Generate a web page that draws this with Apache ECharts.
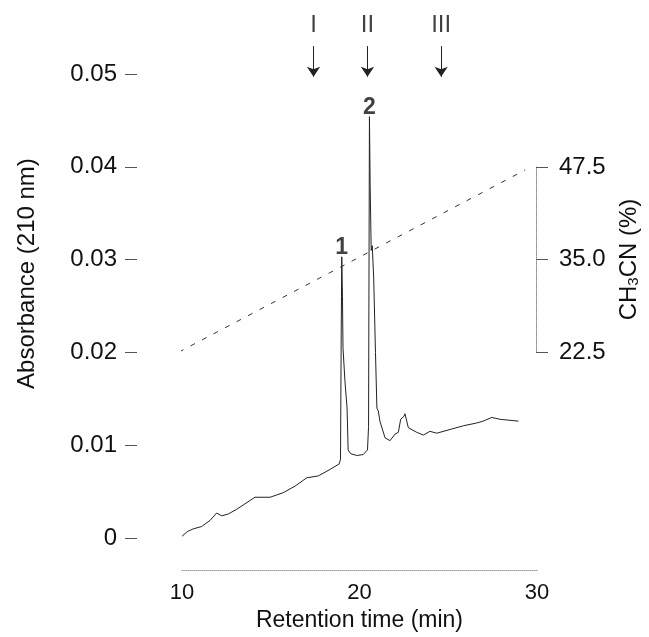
<!DOCTYPE html>
<html>
<head>
<meta charset="utf-8">
<script src="https://cdn.jsdelivr.net/npm/echarts@6/dist/echarts.min.js"></script>
<style>html,body{margin:0;padding:0;background:#fff;}#c{width:649px;height:637px;}</style>
</head>
<body>
<div id="c"></div>
<script>
// Chromatogram trace (retention time in min, absorbance at 210 nm)
const times = [10.0, 10.3, 10.64, 11.11, 11.58, 11.95, 12.24, 12.61, 13.08, 13.55, 14.11, 14.5, 14.96, 15.71, 16.37, 17.03, 17.68, 18.34, 18.86, 18.93, 18.97, 19.0, 19.04, 19.07, 19.18, 19.3, 19.36, 19.5, 19.84, 20.21, 20.45, 20.51, 20.56, 20.6, 20.66, 20.72, 20.8, 20.9, 20.98, 21.06, 21.15, 21.44, 21.72, 22.0, 22.19, 22.32, 22.5, 22.56, 22.75, 23.22, 23.59, 23.97, 24.35, 25.1, 25.85, 26.6, 26.97, 27.45, 27.92, 28.95];
const absorbance = [0.0002, 0.0007, 0.0010, 0.00125, 0.0019, 0.0027, 0.0024, 0.0026, 0.0031, 0.0037, 0.0044, 0.0044, 0.0044, 0.0049, 0.0056, 0.0065, 0.0067, 0.0074, 0.0080, 0.0085, 0.022, 0.0303, 0.026, 0.0205, 0.0169, 0.014, 0.0095, 0.0091, 0.0089, 0.0090, 0.0095, 0.012, 0.0454, 0.038, 0.031, 0.0315, 0.028, 0.020, 0.014, 0.0137, 0.0126, 0.0108, 0.0105, 0.0112, 0.0114, 0.0128, 0.0131, 0.0134, 0.0119, 0.0114, 0.0111, 0.0115, 0.0113, 0.0117, 0.0121, 0.0124, 0.0126, 0.0130, 0.0128, 0.0126];
// Acetonitrile gradient (time, %)
const gradTimes = [9.83, 29.5];
const gradPercent = [22.5, 47.1];
// Peak labels
const peakTimes = [19.0, 20.56];
const peakValues = [0.0303, 0.0454];
const peakLabels = ['1', '2'];
// Fraction markers
const fracTimes = [17.41, 20.45, 24.6];
const fracLabels = ['I', 'II', 'III'];
const fracLabelY = 0.0552;
const fracArrowTop = 0.0530;
const fracArrowBottom = 0.0497;
// Axis ticks
const xTicks = [10, 20, 30];
const yTicks = [0, 0.01, 0.02, 0.03, 0.04, 0.05];
const rightTicks = [22.5, 35.0, 47.5];

const FONT = 'Liberation Sans, Arial, sans-serif';
const chart = echarts.init(document.getElementById('c'), null, {renderer: 'canvas'});

const trace = times.map((t, i) => [t, absorbance[i]]);
const grad = gradTimes.map((t, i) => [t, gradPercent[i]]);

chart.setOption({
  animation: false,
  backgroundColor: '#fff',
  grid: [
    {left: 182, right: 112, top: 9, bottom: 96},
    {left: 182, right: 112, top: 167, bottom: 285}
  ],
  xAxis: [
    {
      type: 'value', gridIndex: 0, min: 10, max: 30, interval: 10,
      offset: 32,
      axisLine: {show: true, onZero: false, lineStyle: {color: '#999', type: 'dotted', width: 1}},
      axisTick: {show: false},
      splitLine: {show: false},
      axisLabel: {fontFamily: FONT, fontSize: 22, color: '#111', margin: 12},
      name: 'Retention time (min)', nameLocation: 'middle', nameGap: 38,
      nameTextStyle: {fontFamily: FONT, fontSize: 23, color: '#111'}
    },
    {
      type: 'value', gridIndex: 1, min: 10, max: 30, show: false
    }
  ],
  yAxis: [
    {
      type: 'value', gridIndex: 0, min: 0, max: 0.057, position: 'left',
      offset: 45,
      axisLine: {show: false, onZero: false},
      axisTick: {show: true, inside: false, length: 12, customValues: yTicks, lineStyle: {color: '#555'}},
      splitLine: {show: false},
      axisLabel: {customValues: yTicks, fontFamily: FONT, fontSize: 24, color: '#111', margin: 20,
        formatter: v => String(v)},
      name: 'Absorbance (210 nm)', nameLocation: 'middle', nameGap: 98, nameRotate: 90,
      nameTextStyle: {fontFamily: FONT, fontSize: 24, color: '#111'}
    },
    {
      type: 'value', gridIndex: 1, min: 22.5, max: 47.5, interval: 12.5, position: 'right',
      offset: 2,
      axisLine: {show: true, onZero: false, lineStyle: {color: '#888', type: 'dotted', width: 1}},
      axisTick: {show: true, inside: false, length: 12, lineStyle: {color: '#555'}},
      splitLine: {show: false},
      axisLabel: {fontFamily: FONT, fontSize: 24, color: '#111', margin: 23,
        formatter: v => v.toFixed(1)},
      name: '{a|CH}{s|3}{a|CN (%)}', nameLocation: 'middle', nameGap: 81, nameRotate: 90,
      nameTextStyle: {
        fontFamily: FONT, fontSize: 24, color: '#111',
        rich: {
          a: {fontFamily: FONT, fontSize: 24, color: '#111'},
          s: {fontFamily: FONT, fontSize: 15, color: '#111', verticalAlign: 'bottom', padding: [8, 0, 0, 0]}
        }
      }
    }
  ],
  series: [
    {
      type: 'line', xAxisIndex: 1, yAxisIndex: 1, data: grad, symbol: 'none', clip: false,
      lineStyle: {color: '#333', width: 1, type: [5, 8]}, silent: true
    },
    {
      type: 'line', xAxisIndex: 0, yAxisIndex: 0, data: trace, symbol: 'none',
      lineStyle: {color: '#222', width: 1}, silent: true
    },
    {
      type: 'scatter', xAxisIndex: 0, yAxisIndex: 0, symbolSize: 0,
      data: peakTimes.map((t, i) => ({value: [t, peakValues[i]], name: peakLabels[i]})),
      label: {show: true, position: 'top', distance: -2, formatter: p => p.name,
        fontFamily: FONT, fontSize: 23, fontWeight: 'bold', color: '#111'},
      silent: true
    },
    {
      type: 'scatter', xAxisIndex: 0, yAxisIndex: 0, symbolSize: 0,
      data: fracTimes.map((t, i) => ({value: [t, fracLabelY], name: fracLabels[i]})),
      label: {show: true, position: 'inside', formatter: p => p.name,
        fontFamily: FONT, fontSize: 24, color: '#111'},
      silent: true
    },
    {
      type: 'lines', coordinateSystem: 'cartesian2d', xAxisIndex: 0, yAxisIndex: 0,
      symbol: ['none', 'arrow'], symbolSize: [6, 10],
      lineStyle: {color: '#222', width: 1, opacity: 1, curveness: 0},
      data: fracTimes.map(t => ({coords: [[t, fracArrowTop], [t, fracArrowBottom]]})),
      silent: true
    }
  ]
});
</script>
</body>
</html>
